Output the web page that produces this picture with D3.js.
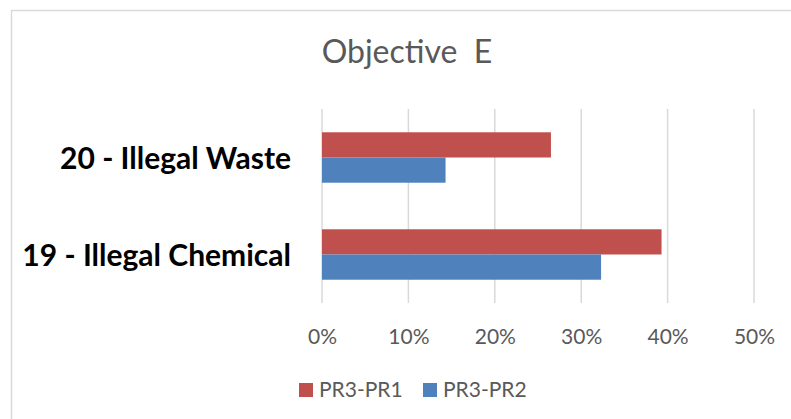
<!DOCTYPE html>
<html>
<head>
<meta charset="utf-8">
<script src="https://cdn.jsdelivr.net/npm/d3@7"></script>
<style>
  body { margin: 0; background: #fff; }
  svg { display: block; }
</style>
</head>
<body>
<svg id="chart" width="791" height="419"></svg>
<script>
// Chart values.
var categories = ['20 - Illegal Waste', '19 - Illegal Chemical'];
var seriesNames = ['PR3-PR1', 'PR3-PR2'];
var seriesColors = ['#c0504d', '#4f81bd'];
var pr3pr1 = [0.265, 0.393];
var pr3pr2 = [0.143, 0.323];
var tickValues = [0, 0.1, 0.2, 0.3, 0.4, 0.5];
var chartTitle = 'Objective\u00a0 E';

var font = 'Lato, "Open Sans", sans-serif';
var svg = d3.select('#chart');

// Outer chart frame (runs off the right and bottom edges).
svg.append('rect')
  .attr('x', 11.5)
  .attr('y', 10.5)
  .attr('width', 800)
  .attr('height', 420)
  .attr('fill', '#fff')
  .attr('stroke', '#d9d9d9')
  .attr('stroke-width', 1.5);

// Title.
svg.append('text')
  .attr('x', 407)
  .attr('y', 63)
  .attr('text-anchor', 'middle')
  .attr('font-family', font)
  .attr('font-size', 32)
  .attr('fill', '#595959')
  .text(chartTitle);

// Scales.
var x = d3.scaleLinear()
  .domain([0, 0.5])
  .range([322, 754]);

var y = d3.scaleBand()
  .domain(categories)
  .range([109, 303])
  .paddingInner(0.48)
  .paddingOuter(0.24);

var ySeries = d3.scaleBand()
  .domain(seriesNames)
  .range([0, y.bandwidth()]);

// Gridlines.
svg.append('g')
  .selectAll('line')
  .data(tickValues)
  .enter().append('line')
    .attr('x1', function(d) { return x(d); })
    .attr('x2', function(d) { return x(d); })
    .attr('y1', 109)
    .attr('y2', 303)
    .attr('stroke', '#d9d9d9')
    .attr('stroke-width', 1.5);

// Bars, one group per category.
var rows = categories.map(function(c, i) {
  return { category: c, values: [pr3pr1[i], pr3pr2[i]] };
});

var groups = svg.append('g')
  .selectAll('g')
  .data(rows)
  .enter().append('g')
    .attr('transform', function(d) { return 'translate(0,' + y(d.category) + ')'; });

groups.selectAll('rect')
  .data(function(d) {
    return d.values.map(function(v, j) { return { name: seriesNames[j], value: v, color: seriesColors[j] }; });
  })
  .enter().append('rect')
    .attr('x', x(0))
    .attr('y', function(d) { return ySeries(d.name); })
    .attr('width', function(d) { return x(d.value) - x(0); })
    .attr('height', ySeries.bandwidth())
    .attr('fill', function(d) { return d.color; });

// Category labels.
svg.append('g')
  .selectAll('text')
  .data(categories)
  .enter().append('text')
    .attr('x', 291)
    .attr('y', function(d) { return y(d) + y.bandwidth() / 2 + 11; })
    .attr('text-anchor', 'end')
    .attr('font-family', font)
    .attr('font-weight', 'bold')
    .attr('font-size', 30)
    .attr('fill', '#000')
    .text(function(d) { return d; });

// X axis labels.
var xAxis = svg.append('g')
  .attr('transform', 'translate(0,344)')
  .call(d3.axisBottom(x)
    .tickValues(tickValues)
    .tickSize(0)
    .tickPadding(0)
    .tickFormat(d3.format('.0%')));
xAxis.select('.domain').remove();
xAxis.selectAll('text')
  .attr('dy', 0)
  .attr('font-family', font)
  .attr('font-size', 21)
  .attr('fill', '#595959');

// Legend.
var legendX = [299, 423];
var legend = svg.append('g')
  .selectAll('g')
  .data(seriesNames)
  .enter().append('g')
    .attr('transform', function(d, i) { return 'translate(' + legendX[i] + ',397)'; });

legend.append('rect')
  .attr('x', 0)
  .attr('y', -14)
  .attr('width', 14)
  .attr('height', 14)
  .attr('fill', function(d, i) { return seriesColors[i]; });

legend.append('text')
  .attr('x', 20)
  .attr('y', 0)
  .attr('font-family', font)
  .attr('font-size', 21)
  .attr('fill', '#595959')
  .text(function(d) { return d; });
</script>
</body>
</html>
